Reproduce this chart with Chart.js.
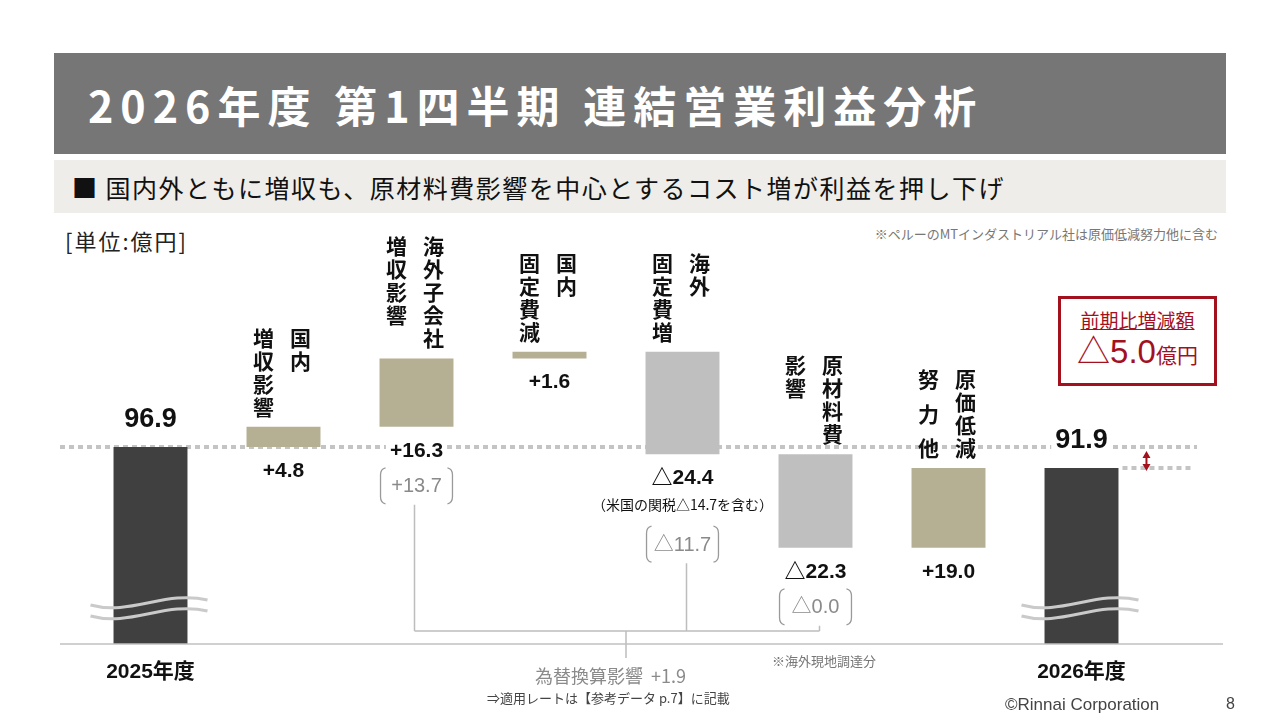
<!DOCTYPE html>
<html lang="ja">
<head>
<meta charset="utf-8">
<title>2026年度 第1四半期 連結営業利益分析</title>
<script src="https://cdn.jsdelivr.net/npm/chart.js@4.4.1/dist/chart.umd.min.js"></script>
<style>
  body { margin: 0; background: #fff; font-family: 'Noto Sans CJK JP', sans-serif; }
  #page { position: relative; width: 1280px; height: 720px; overflow: hidden; }
  #chartBox { position: absolute; left: 0; top: 0; width: 1280px; height: 720px; }
  .t { position: absolute; white-space: nowrap; transform: translateY(-50%); line-height: 1; }
  .header { position: absolute; left: 54px; top: 53px; width: 1172px; height: 101px; background: #767676; }
  .header span { position: absolute; left: 34px; top: 50%; transform: translateY(-50%); color: #fff; font-weight: bold; font-size: 43px; letter-spacing: 7px; white-space: nowrap; }
  .sub { position: absolute; left: 54px; top: 160px; width: 1172px; height: 53px; background: #eeede9; }
  .sub span { position: absolute; left: 18px; top: 50%; transform: translateY(-50%); font-size: 25px; color: #111; white-space: nowrap; letter-spacing: 1.5px; }
  .redbox { position: absolute; left: 1058px; top: 296px; width: 159px; height: 90px; border: 3px solid #a3111f; box-sizing: border-box; color: #a3111f; text-align: center; }
</style>
</head>
<body>
<div id="page">
  <div class="header"><span>2026年度 第1四半期 連結営業利益分析</span></div>
  <div class="sub"><span>■ 国内外ともに増収も、原材料費影響を中心とするコスト増が利益を押し下げ</span></div>
  <div class="t" style="left:65px; top:240px; font-size:22px; color:#222; letter-spacing:2px;">[単位:億円]</div>
  <div class="t" style="right:62px; top:233px; font-size:13px; color:#777;">※ペルーのMTインダストリアル社は原価低減努力他に含む</div>
  <div class="redbox">
    <div style="margin-top:11px; font-size:19px; text-decoration:underline; line-height:1.1;">前期比増減額</div>
    <div style="margin-top:4px; line-height:1;"><span style="font-family:'Liberation Sans','Noto Sans CJK JP',sans-serif; font-size:33px;">△5.0</span><span style="font-size:21px;">億円</span></div>
  </div>
  <div id="chartBox"><canvas id="chart"></canvas></div>
  <div class="t" style="left:535px; top:675px; font-size:18px; color:#8a8a8a;">為替換算影響&nbsp;&nbsp;+1.9</div>
  <div class="t" style="left:487px; top:697px; font-size:13px; color:#444;">⇒適用レートは【参考データ p.7】に記載</div>
  <div class="t" style="left:772px; top:660px; font-size:13px; color:#777;">※海外現地調達分</div>
  <div class="t" style="left:1005px; top:704px; font-size:17px; color:#444; font-family:'Liberation Sans',sans-serif;">©Rinnai Corporation</div>
  <div class="t" style="left:1226px; top:704px; font-size:16px; color:#444; font-family:'Liberation Sans',sans-serif;">8</div>
</div>
<script>
// データ
const categories = ['2025年度', '国内 増収影響', '海外子会社 増収影響', '国内 固定費減', '海外 固定費増', '原材料費 影響', '原価低減 努力他', '2026年度'];
const values = [96.9, 4.8, 16.3, 1.6, -24.4, -22.3, 19.0, 91.9];
const isTotal = [true, false, false, false, false, false, false, true];
const fxValues = [null, null, 13.7, null, -11.7, -0.0, null, null];
const notes = [null, null, null, null, '（米国の関税△14.7を含む）', null, null, null];
const yMin = 50;
const yMax = 150;

// 滝グラフ用の浮動バー
let running = 0;
const bars = values.map((v, i) => {
    if (isTotal[i]) {
        running = v;
        return [0, v];
    }
    const start = running;
    running = Math.round((running + v) * 10) / 10;
    return [start, running];
});

const colors = values.map((v, i) => isTotal[i] ? '#404040' : (v > 0 ? '#b5b094' : '#bfbfbf'));

function fmt(v) {
    const neg = v < 0 || Object.is(v, -0);
    return (neg ? '△' : '+') + Math.abs(v).toFixed(1);
}

const NUM_FONT = "'Liberation Sans', 'Noto Sans CJK JP', sans-serif";
const JP_FONT = "'Noto Sans CJK JP', sans-serif";

function dotted(ctx, x1, x2, y) {
    ctx.save();
    ctx.strokeStyle = '#c4c4c4';
    ctx.lineWidth = 4;
    ctx.setLineDash([5, 4]);
    ctx.beginPath();
    ctx.moveTo(x1, y);
    ctx.lineTo(x2, y);
    ctx.stroke();
    ctx.restore();
}

function bracket(ctx, cx, cy, w, h) {
    const xl = cx - w / 2, xr = cx + w / 2, yt = cy - h / 2, yb = cy + h / 2;
    ctx.save();
    ctx.strokeStyle = '#9a9a9a';
    ctx.lineWidth = 1.3;
    ctx.beginPath();
    ctx.moveTo(xl + 5, yt);
    ctx.quadraticCurveTo(xl, yt + 1, xl, yt + 7);
    ctx.lineTo(xl, yb - 7);
    ctx.quadraticCurveTo(xl, yb - 1, xl + 5, yb);
    ctx.moveTo(xr - 5, yt);
    ctx.quadraticCurveTo(xr, yt + 1, xr, yt + 7);
    ctx.lineTo(xr, yb - 7);
    ctx.quadraticCurveTo(xr, yb - 1, xr - 5, yb);
    ctx.stroke();
    ctx.restore();
}

function wave(ctx, xl, xr, y) {
    ctx.beginPath();
    ctx.moveTo(xl, y + 3);
    ctx.bezierCurveTo(xl + 40, y + 14, xl + 75, y - 12, xr, y - 2);
    ctx.stroke();
}

const waterfallPlugin = {
    id: 'waterfall',
    beforeDatasetsDraw(chart) {
        const ctx = chart.ctx;
        const ys = chart.scales.y;
        const meta = chart.getDatasetMeta(0);
        const last = meta.data[meta.data.length - 1];
        // 基準線（点線）
        dotted(ctx, 60, 1197, ys.getPixelForValue(values[0]));
        dotted(ctx, last.x + last.width / 2 + 4, 1192, ys.getPixelForValue(values[values.length - 1]));
    },
    afterDatasetsDraw(chart) {
        const ctx = chart.ctx;
        const ys = chart.scales.y;
        const area = chart.chartArea;
        const meta = chart.getDatasetMeta(0);
        ctx.save();

        // 軸線
        ctx.strokeStyle = '#c0c0c0';
        ctx.lineWidth = 1.5;
        ctx.beginPath();
        ctx.moveTo(60, area.bottom);
        ctx.lineTo(1223, area.bottom);
        ctx.stroke();

        // 省略の波線
        ctx.strokeStyle = '#cacaca';
        ctx.lineWidth = 3;
        meta.data.forEach((bar, i) => {
            if (!isTotal[i]) return;
            const y = ys.getPixelForValue(60);
            const xl = bar.x - 60, xr = bar.x + 57;
            wave(ctx, xl, xr, y);
            wave(ctx, xl, xr, y + 11);
        });

        // 前期比の矢印
        const last = meta.data[meta.data.length - 1];
        const yA = ys.getPixelForValue(values[0]) + 4;
        const yB = ys.getPixelForValue(values[values.length - 1]) + 3;
        const ax = last.x + last.width / 2 + 28;
        ctx.strokeStyle = '#a3111f';
        ctx.fillStyle = '#a3111f';
        ctx.lineWidth = 2;
        ctx.beginPath();
        ctx.moveTo(ax, yA + 5);
        ctx.lineTo(ax, yB - 5);
        ctx.stroke();
        ctx.beginPath();
        ctx.moveTo(ax, yA); ctx.lineTo(ax - 4, yA + 7); ctx.lineTo(ax + 4, yA + 7); ctx.closePath();
        ctx.moveTo(ax, yB); ctx.lineTo(ax - 4, yB - 7); ctx.lineTo(ax + 4, yB - 7); ctx.closePath();
        ctx.fill();

        const fxPoints = [];
        meta.data.forEach((bar, i) => {
            const topPx = Math.min(bar.y, bar.base);
            const botPx = Math.max(bar.y, bar.base);
            ctx.textAlign = 'center';
            ctx.textBaseline = 'middle';

            if (isTotal[i]) {
                // 合計値
                ctx.font = 'bold 27px ' + NUM_FONT;
                const ly = topPx - 27;
                const tw = ctx.measureText(values[i].toFixed(1)).width;
                ctx.fillStyle = '#fff';
                ctx.fillRect(bar.x - tw / 2 - 4, ly - 14, tw + 8, 26);
                ctx.fillStyle = '#111';
                ctx.fillText(values[i].toFixed(1), bar.x, ly);
                // 年度ラベル
                ctx.font = 'bold 21px ' + NUM_FONT;
                ctx.fillText(categories[i], bar.x, area.bottom + 28);
                return;
            }

            // 縦書きの項目名（右の列から）
            const cols = categories[i].split(' ');
            const n = Math.max(...cols.map(c => c.length));
            const step = 23;
            const lastC = topPx - 20;
            const firstC = lastC - (n - 1) * step;
            ctx.font = 'bold 21px ' + JP_FONT;
            ctx.fillStyle = '#111';
            cols.forEach((col, ci) => {
                const cx = bar.x + (ci === 0 ? 17 : -20);
                const chars = Array.from(col);
                const s = (chars.length === 3 && chars.length < n) ? (n - 1) * step / (chars.length - 1) : step;
                chars.forEach((ch, k) => ctx.fillText(ch, cx, firstC + k * s));
            });

            // 増減値
            let ly = botPx + 24;
            ctx.font = 'bold 21px ' + NUM_FONT;
            const label = fmt(values[i]);
            const tw = ctx.measureText(label).width;
            ctx.fillStyle = '#fff';
            ctx.fillRect(bar.x - tw / 2 - 4, ly - 12, tw + 8, 24);
            ctx.fillStyle = '#111';
            ctx.fillText(label, bar.x, ly);

            if (notes[i]) {
                ly += 27;
                ctx.font = '14px ' + JP_FONT;
                ctx.fillText(notes[i], bar.x, ly);
                ly += 4;
            }

            // 為替換算影響の括弧
            if (fxValues[i] !== null) {
                const by = ly + 35;
                bracket(ctx, bar.x, by, bar.width - 2, 36);
                ctx.font = '20px ' + NUM_FONT;
                ctx.fillStyle = '#8a8a8a';
                ctx.fillText(fmt(fxValues[i]), bar.x, by + 1);
                fxPoints.push({ x: bar.x + (fxPoints.length ? 4 : -2), y: by + 19 });
            }
        });

        // 括弧からの接続線
        if (fxPoints.length) {
            const yc = area.bottom - 13;
            ctx.strokeStyle = '#bdbdbd';
            ctx.lineWidth = 1.5;
            ctx.beginPath();
            fxPoints.forEach(p => { ctx.moveTo(p.x, p.y); ctx.lineTo(p.x, yc); });
            const x1 = fxPoints[0].x, x2 = fxPoints[fxPoints.length - 1].x;
            ctx.moveTo(x1, yc);
            ctx.lineTo(x2, yc);
            const mx = (x1 + x2) / 2 + 9;
            ctx.moveTo(mx, yc);
            ctx.lineTo(mx, area.bottom + 14);
            ctx.stroke();
        }
        ctx.restore();
    }
};

const ctx = document.getElementById('chart').getContext('2d');
const chart = new Chart(ctx, {
    type: 'bar',
    data: {
        labels: categories,
        datasets: [{
            data: bars,
            backgroundColor: colors,
            borderWidth: 0,
            barPercentage: 1,
            categoryPercentage: 0.556
        }]
    },
    options: {
        responsive: true,
        maintainAspectRatio: false,
        animation: false,
        layout: { padding: { left: 84, right: 132, top: 224, bottom: 76 } },
        scales: {
            x: { display: false },
            y: { display: false, min: yMin, max: yMax }
        },
        plugins: {
            legend: { display: false },
            tooltip: { enabled: false }
        }
    },
    plugins: [waterfallPlugin]
});
</script>
</body>
</html>
